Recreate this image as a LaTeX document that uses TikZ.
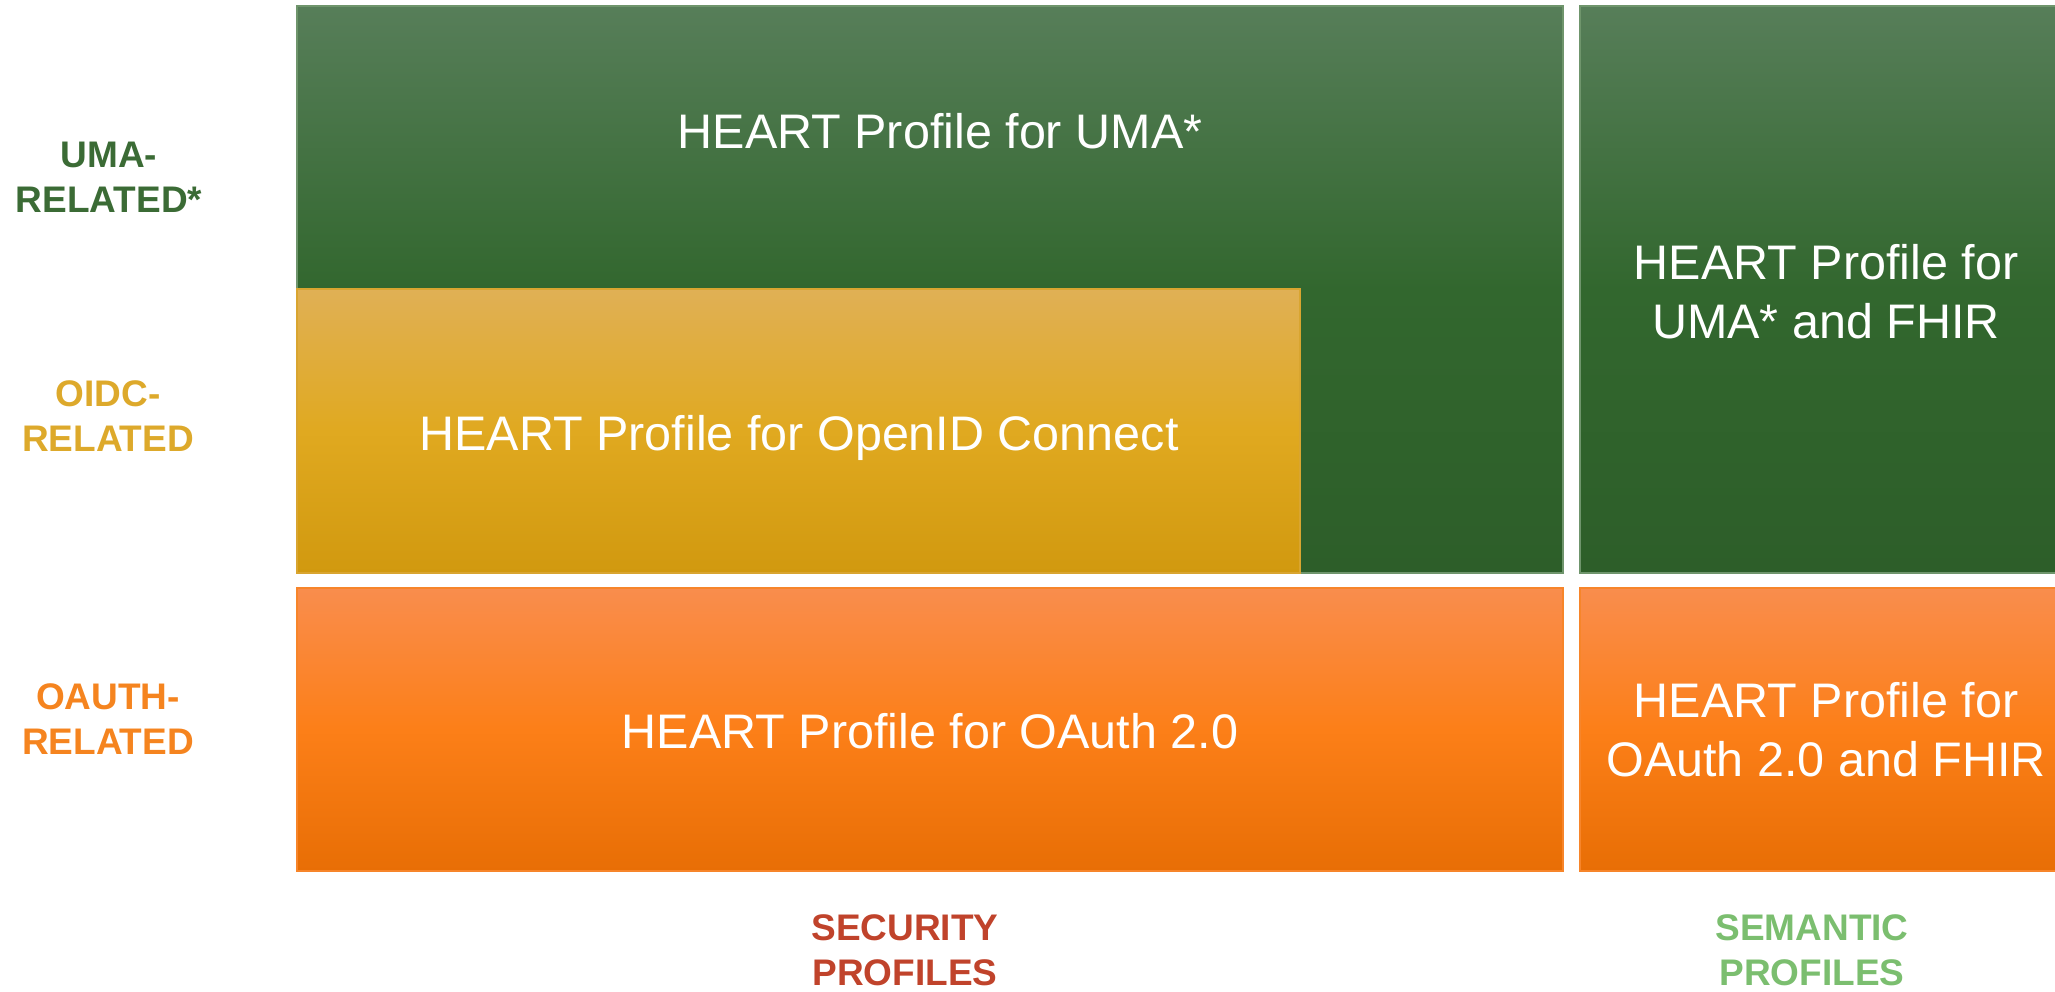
\documentclass[tikz,border=0pt]{standalone}
\usepackage{fontspec}
\setmainfont{Liberation Sans}
\definecolor{gTop}{HTML}{577E59}
\definecolor{gMid}{HTML}{32672E}
\definecolor{gBot}{HTML}{2D5E29}
\definecolor{gEdge}{HTML}{6F956C}
\definecolor{yTop}{HTML}{E0B055}
\definecolor{yMid}{HTML}{E0A920}
\definecolor{yBot}{HTML}{D1990F}
\definecolor{yEdge}{HTML}{D9A530}
\definecolor{oTop}{HTML}{F98D4D}
\definecolor{oMid}{HTML}{FC7F18}
\definecolor{oBot}{HTML}{E86E05}
\definecolor{oEdge}{HTML}{F7852A}
\definecolor{umaC}{HTML}{3B6B35}
\definecolor{oidcC}{HTML}{DDA92B}
\definecolor{oauthC}{HTML}{F5841F}
\definecolor{secC}{HTML}{C0432B}
\definecolor{semC}{HTML}{7BBE6F}
\tikzset{
  panel/.style={line width=1.5pt},
  greenpanel/.style={panel, draw=gEdge, top color=gTop, bottom color=gBot, middle color=gMid},
  yellowpanel/.style={panel, draw=yEdge, top color=yTop, bottom color=yBot, middle color=yMid},
  orangepanel/.style={panel, draw=oEdge, top color=oTop, bottom color=oBot, middle color=oMid},
  bigtext/.style={text=white, font=\fontsize{48.5}{59}\selectfont, inner sep=0pt, align=center},
  sidelabel/.style={font=\bfseries\fontsize{37}{45}\selectfont, inner sep=0pt, align=center}
}
\begin{document}
\begin{tikzpicture}[x=1pt,y=-1pt]
\useasboundingbox (0,0) rectangle (2055,991);
% panels
\path[greenpanel] (297,6) rectangle (1563,573);
\path[greenpanel] (1580,6) rectangle (2065,573);
\path[yellowpanel] (297,289) rectangle (1300,573);
\path[orangepanel] (297,588) rectangle (1563,871);
\path[orangepanel] (1580,588) rectangle (2065,871);
% panel texts
\node[bigtext, anchor=base] (uma) at (940,148) {HEART Profile for UMA*};
\node[bigtext, anchor=base] (oidc) at (799,450) {HEART Profile for OpenID Connect};
\node[bigtext, anchor=base] (oauth) at (930,748) {HEART Profile for OAuth 2.0};
\node[bigtext] (umafhir) at (1826,292) {HEART Profile for\\UMA* and FHIR};
\node[bigtext] (oauthfhir) at (1826,730) {HEART Profile for\\OAuth 2.0 and FHIR};
% side labels
\node[sidelabel, text=umaC] (lbluma) at (109,177) {UMA-\\RELATED*};
\node[sidelabel, text=oidcC] (lbloidc) at (108,416) {OIDC-\\RELATED};
\node[sidelabel, text=oauthC] (lbloauth) at (108,719) {OAUTH-\\RELATED};
% bottom labels
\node[sidelabel, text=secC] (lblsec) at (905,950) {SECURITY\\PROFILES};
\node[sidelabel, text=semC] (lblsem) at (1812,950) {SEMANTIC\\PROFILES};
\end{tikzpicture}
\end{document}
